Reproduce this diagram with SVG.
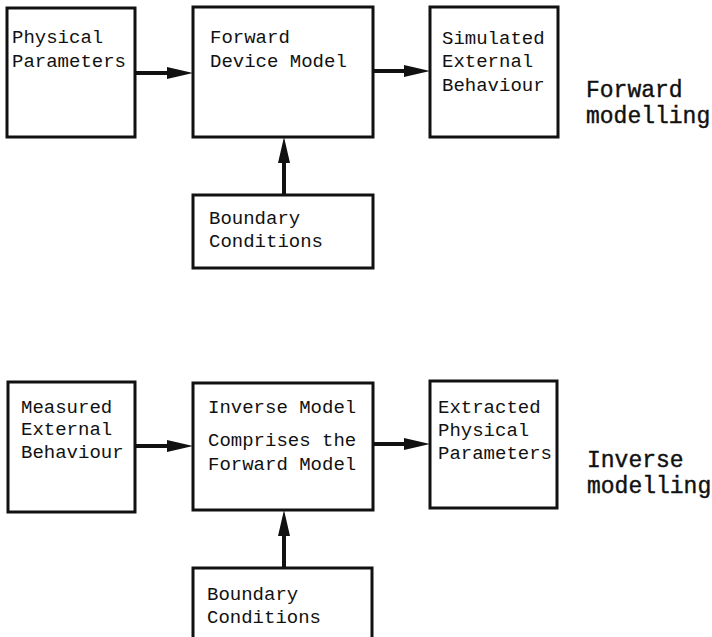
<svg xmlns="http://www.w3.org/2000/svg" width="712" height="637" viewBox="0 0 712 637">
<defs>
<style>
.box{fill:#fff;stroke:#111;stroke-width:3}
.t{font-family:"Liberation Mono","Courier New",monospace;font-size:19px;fill:#111}
.big{font-family:"Liberation Mono","Courier New",monospace;font-size:23px;fill:#111;stroke:#111;stroke-width:0.4}
.arr{stroke:#111;stroke-width:4;fill:none}
</style>
<marker id="ah" viewBox="0 0 26 12" refX="6" refY="6" markerWidth="26" markerHeight="12" markerUnits="userSpaceOnUse" orient="auto">
<path d="M0,0 L26,6 L0,12 Z" fill="#111"/>
</marker>
</defs>
<rect width="712" height="637" fill="#fff"/>
<g id="connectors">
<line class="arr" x1="135" y1="73" x2="173" y2="73" marker-end="url(#ah)"/>
<line class="arr" x1="373" y1="71" x2="410" y2="71" marker-end="url(#ah)"/>
<line class="arr" x1="284" y1="195" x2="284" y2="157" marker-end="url(#ah)"/>
<line class="arr" x1="135" y1="446" x2="173" y2="446" marker-end="url(#ah)"/>
<line class="arr" x1="373" y1="444" x2="410" y2="444" marker-end="url(#ah)"/>
<line class="arr" x1="284" y1="568" x2="284" y2="530" marker-end="url(#ah)"/>
</g>
<g id="physical-parameters">
<rect class="box" x="7" y="8" width="128" height="129"/>
<text class="t" x="12" y="43">Physical</text>
<text class="t" x="12" y="67">Parameters</text>
</g>
<g id="forward-device-model">
<rect class="box" x="193" y="7" width="180" height="130"/>
<text class="t" x="210" y="43">Forward</text>
<text class="t" x="210" y="67">Device Model</text>
</g>
<g id="simulated-external-behaviour">
<rect class="box" x="430" y="7" width="128" height="130"/>
<text class="t" x="442" y="44">Simulated</text>
<text class="t" x="442" y="67">External</text>
<text class="t" x="442" y="91">Behaviour</text>
</g>
<g id="forward-label">
<text class="big" x="586" y="97">Forward</text>
<text class="big" x="586" y="123">modelling</text>
</g>
<g id="boundary-conditions-1">
<rect class="box" x="193" y="195" width="180" height="73"/>
<text class="t" x="209" y="224">Boundary</text>
<text class="t" x="209" y="247">Conditions</text>
</g>
<g id="measured-external-behaviour">
<rect class="box" x="8" y="382" width="127" height="130"/>
<text class="t" x="21" y="413">Measured</text>
<text class="t" x="21" y="435">External</text>
<text class="t" x="21" y="458">Behaviour</text>
</g>
<g id="inverse-model">
<rect class="box" x="193" y="383" width="180" height="127"/>
<text class="t" x="208" y="413">Inverse Model</text>
<text class="t" x="208" y="446">Comprises the</text>
<text class="t" x="208" y="470">Forward Model</text>
</g>
<g id="extracted-physical-parameters">
<rect class="box" x="430" y="381" width="127" height="127"/>
<text class="t" x="438" y="413">Extracted</text>
<text class="t" x="438" y="436">Physical</text>
<text class="t" x="438" y="459">Parameters</text>
</g>
<g id="inverse-label">
<text class="big" x="587" y="467">Inverse</text>
<text class="big" x="587" y="493">modelling</text>
</g>
<g id="boundary-conditions-2">
<rect class="box" x="193" y="568" width="179" height="80"/>
<text class="t" x="207" y="600">Boundary</text>
<text class="t" x="207" y="623">Conditions</text>
</g>
</svg>
